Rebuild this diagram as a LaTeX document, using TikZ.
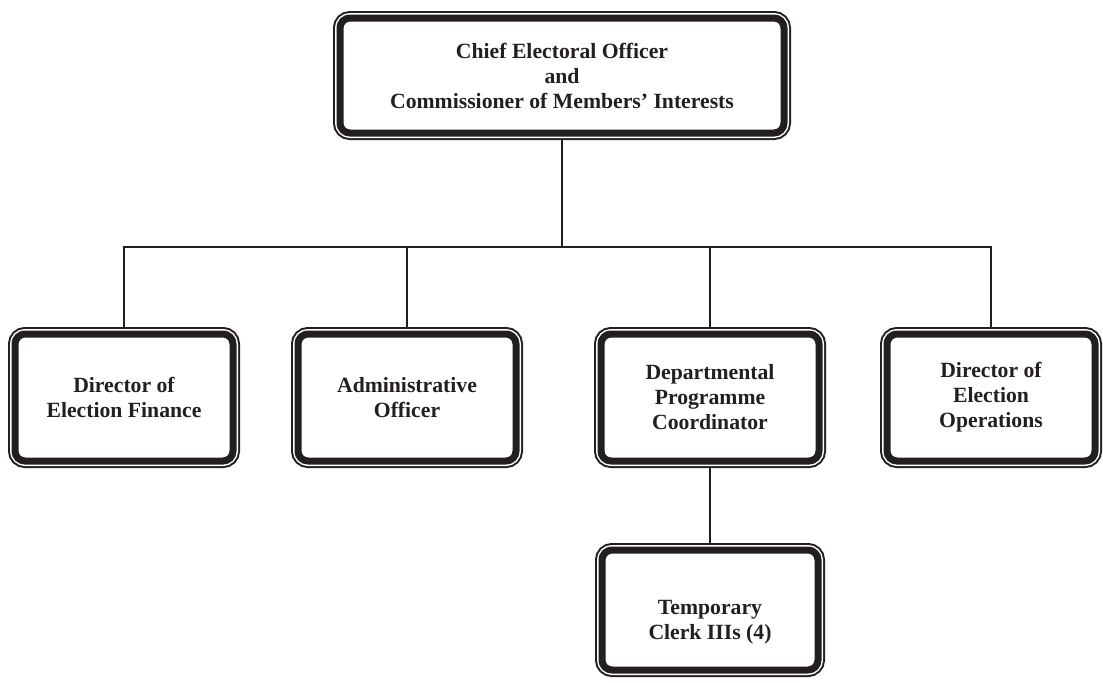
\documentclass[tikz,border=0pt]{standalone}
\usepackage{fontspec}
\setmainfont{Liberation Serif}
\definecolor{ink}{HTML}{231F20}
\begin{document}
\begin{tikzpicture}[x=0.5pt,y=-0.5pt]
    \tikzstyle{every node}+=[inner sep=0pt, outer sep=3.5pt, align=center, text=ink, font=\bfseries\fontsize{10.85}{12.5}\selectfont]
    \tikzstyle{post}=[rounded corners=5pt, fill=white, draw=ink, line width=3.5pt, preaction={draw=ink, line width=7pt}, preaction={draw=white, line width=5pt}]
    \tikzstyle{row}=[post, minimum width=109pt, minimum height=63.5pt]
    \tikzstyle{link}=[draw=ink, line width=0.75pt]
    \useasboundingbox (0,0) rectangle (1103,682);
    \node [post, minimum width=222pt, minimum height=57.5pt] (ceo) at (562,75.5) {Chief Electoral Officer\\and\\Commissioner of Members’ Interests};
    \node [row] (finance) at (124,397.5) {Director of\\Election Finance};
    \node [row] (admin) at (407,397.5) {Administrative\\Officer};
    \node [row] (dpc) at (710,397.5) {Departmental\\Programme\\Coordinator};
    \node [row, minimum width=104pt] (ops) at (991,397.5) {Director of\\Election\\Operations};
    \node [post, minimum width=108pt, minimum height=60pt] (clerks) at (710,610) {\rule{0pt}{19pt}Temporary\\Clerk IIIs (4)};
    \coordinate (bus) at (562,247);
    \draw [link] (ceo.south) -- (bus);
    \draw [link] (finance.north) |- (bus);
    \draw [link] (admin.north) |- (bus);
    \draw [link] (dpc.north) |- (bus);
    \draw [link] (ops.north) |- (bus);
    \draw [link] (dpc.south) -- (clerks.north);
\end{tikzpicture}
\end{document}
